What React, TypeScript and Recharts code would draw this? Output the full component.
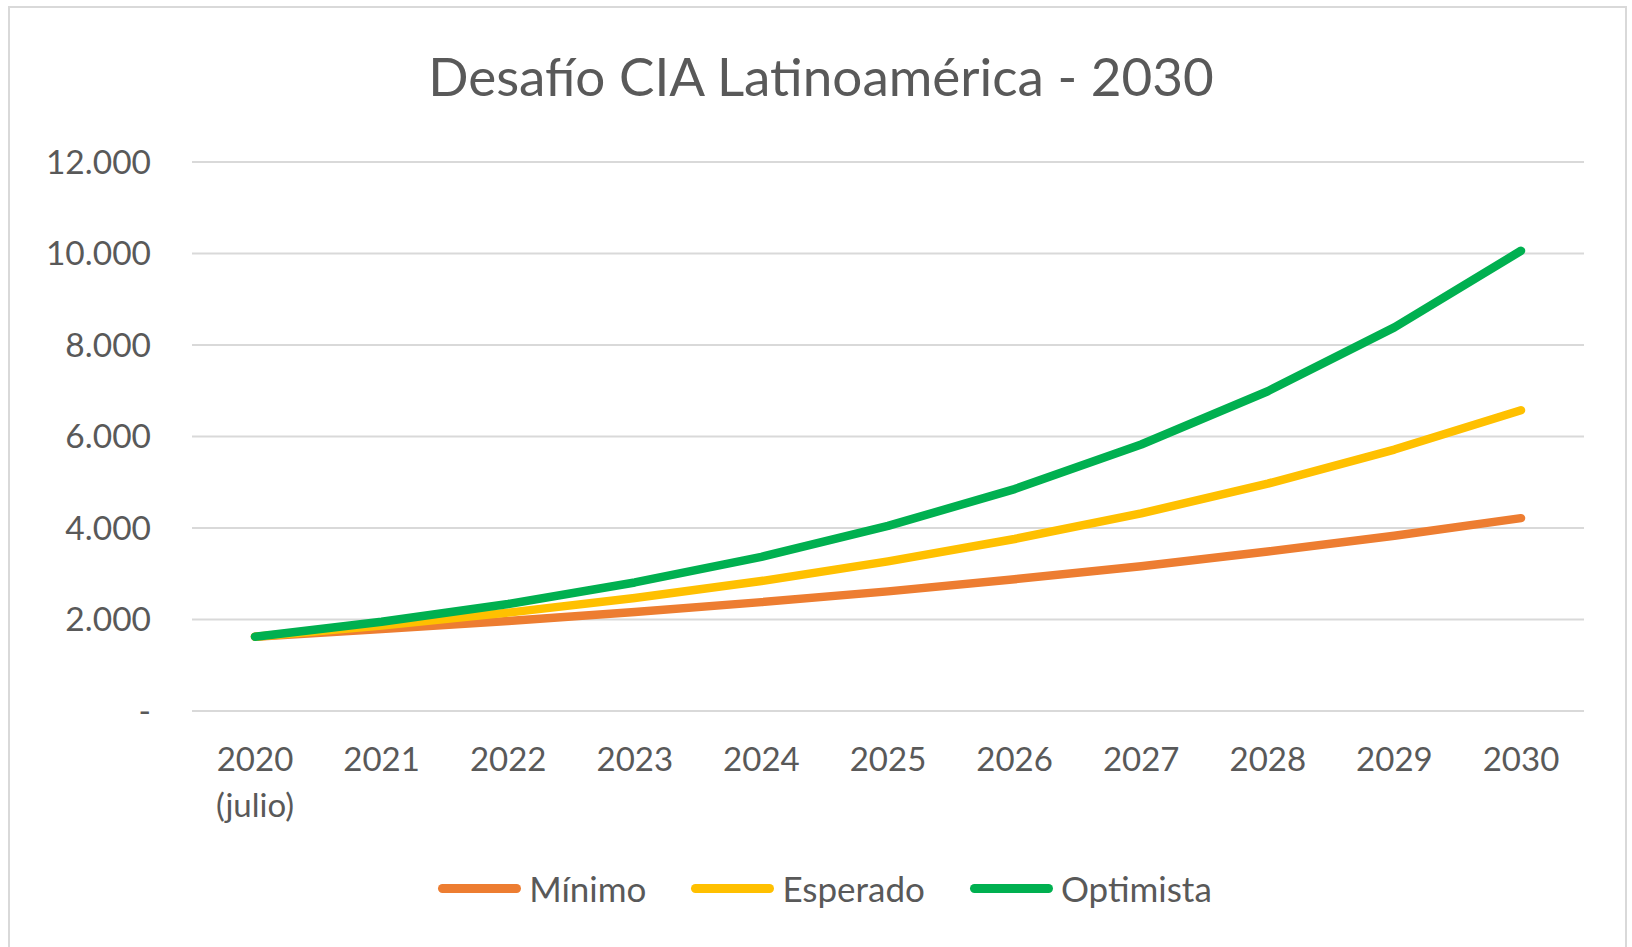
import React from "react";
import { LineChart, Line, XAxis, YAxis, CartesianGrid, Legend } from "recharts";

const categories = [
  "2020\n(julio)",
  "2021",
  "2022",
  "2023",
  "2024",
  "2025",
  "2026",
  "2027",
  "2028",
  "2029",
  "2030",
];
const minimo = [1625, 1790, 1965, 2165, 2380, 2615, 2880, 3165, 3485, 3830, 4215];
const esperado = [1625, 1870, 2150, 2470, 2840, 3270, 3760, 4320, 4970, 5715, 6575];
const optimista = [1625, 1950, 2340, 2810, 3370, 4045, 4850, 5825, 6990, 8385, 10060];
const yTicks = [0, 2000, 4000, 6000, 8000, 10000, 12000];

const series = [
  { key: "minimo", name: "Mínimo", color: "#ED7D31" },
  { key: "esperado", name: "Esperado", color: "#FFC000" },
  { key: "optimista", name: "Optimista", color: "#00B050" },
];

const data = categories.map((c, i) => ({
  cat: c,
  minimo: minimo[i],
  esperado: esperado[i],
  optimista: optimista[i],
}));

const TEXT = "#595959";
const FONT = "Lato, 'Open Sans', sans-serif";

const fmt = (v: number) =>
  v === 0 ? "-" : String(v).replace(/\B(?=(\d{3})+(?!\d))/g, ".");

const XTick = (props: any) => {
  const { x, y, payload } = props;
  const lines = String(payload.value).split("\n");
  return (
    <text x={x} y={y} textAnchor="middle" fill={TEXT} fontSize={33} fontFamily={FONT}>
      {lines.map((l, i) => (
        <tspan key={i} x={x} dy={i === 0 ? 60 : 46}>
          {l}
        </tspan>
      ))}
    </text>
  );
};

const YTick = (props: any) => {
  const { x, y, payload } = props;
  const v = payload.value as number;
  return (
    <text
      x={x}
      y={y}
      dy="0.355em"
      textAnchor="end"
      fill={TEXT}
      fontSize={33.5}
      fontFamily={FONT}
    >
      {fmt(v)}
    </text>
  );
};

const LegendContent = () => (
  <div
    style={{
      display: "flex",
      justifyContent: "center",
      alignItems: "center",
      gap: 45,
      fontFamily: FONT,
      fontSize: 35,
      color: TEXT,
      paddingLeft: 18,
    }}
  >
    {series.map((s) => (
      <div key={s.key} style={{ display: "flex", alignItems: "center" }}>
        <div
          style={{
            width: 83,
            height: 9,
            borderRadius: 5,
            background: s.color,
            marginRight: 8,
          }}
        />
        <span>{s.name}</span>
      </div>
    ))}
  </div>
);

export default function App() {
  return (
    <div
      style={{
        position: "absolute",
        left: 0,
        top: 0,
        width: 1632,
        height: 947,
        overflow: "hidden",
        background: "#fff",
        fontFamily: FONT,
      }}
    >
      <div
        style={{
          position: "absolute",
          left: 8,
          top: 6,
          width: 1619,
          height: 1000,
          border: "2px solid #D9D9D9",
          boxSizing: "border-box",
        }}
      />
      <svg
        width={1632}
        height={947}
        style={{ position: "absolute", left: 0, top: 0, pointerEvents: "none" }}
      >
        <text x={821} y={96} textAnchor="middle" fill={TEXT} fontSize={53} fontFamily={FONT}>
          Desafío CIA Latinoamérica - 2030
        </text>
      </svg>
      <div style={{ position: "absolute", left: 0, top: 0 }}>
        <LineChart
          width={1632}
          height={947}
          data={data}
          margin={{ top: 162, right: 48, bottom: 0, left: 0 }}
        >
          <CartesianGrid vertical={false} stroke="#D9D9D9" strokeWidth={2} />
          <XAxis
            dataKey="cat"
            height={236}
            axisLine={false}
            tickLine={false}
            tickSize={0}
            tickMargin={0}
            interval={0}
            padding={{ left: 63, right: 63 }}
            tick={<XTick />}
          />
          <YAxis
            width={192}
            domain={[0, 12000]}
            ticks={yTicks}
            axisLine={false}
            tickLine={false}
            tickSize={0}
            tickMargin={41}
            tick={<YTick />}
          />
          <Legend
            layout="horizontal"
            verticalAlign="middle"
            align="center"
            wrapperStyle={{ top: 867, left: 0, width: 1632 }}
            content={<LegendContent />}
          />
          {series.map((s) => (
            <Line
              key={s.key}
              type="linear"
              dataKey={s.key}
              name={s.name}
              stroke={s.color}
              strokeWidth={8.5}
              strokeLinecap="round"
              strokeLinejoin="round"
              dot={false}
              activeDot={false}
              isAnimationActive={false}
            />
          ))}
        </LineChart>
      </div>
    </div>
  );
}
